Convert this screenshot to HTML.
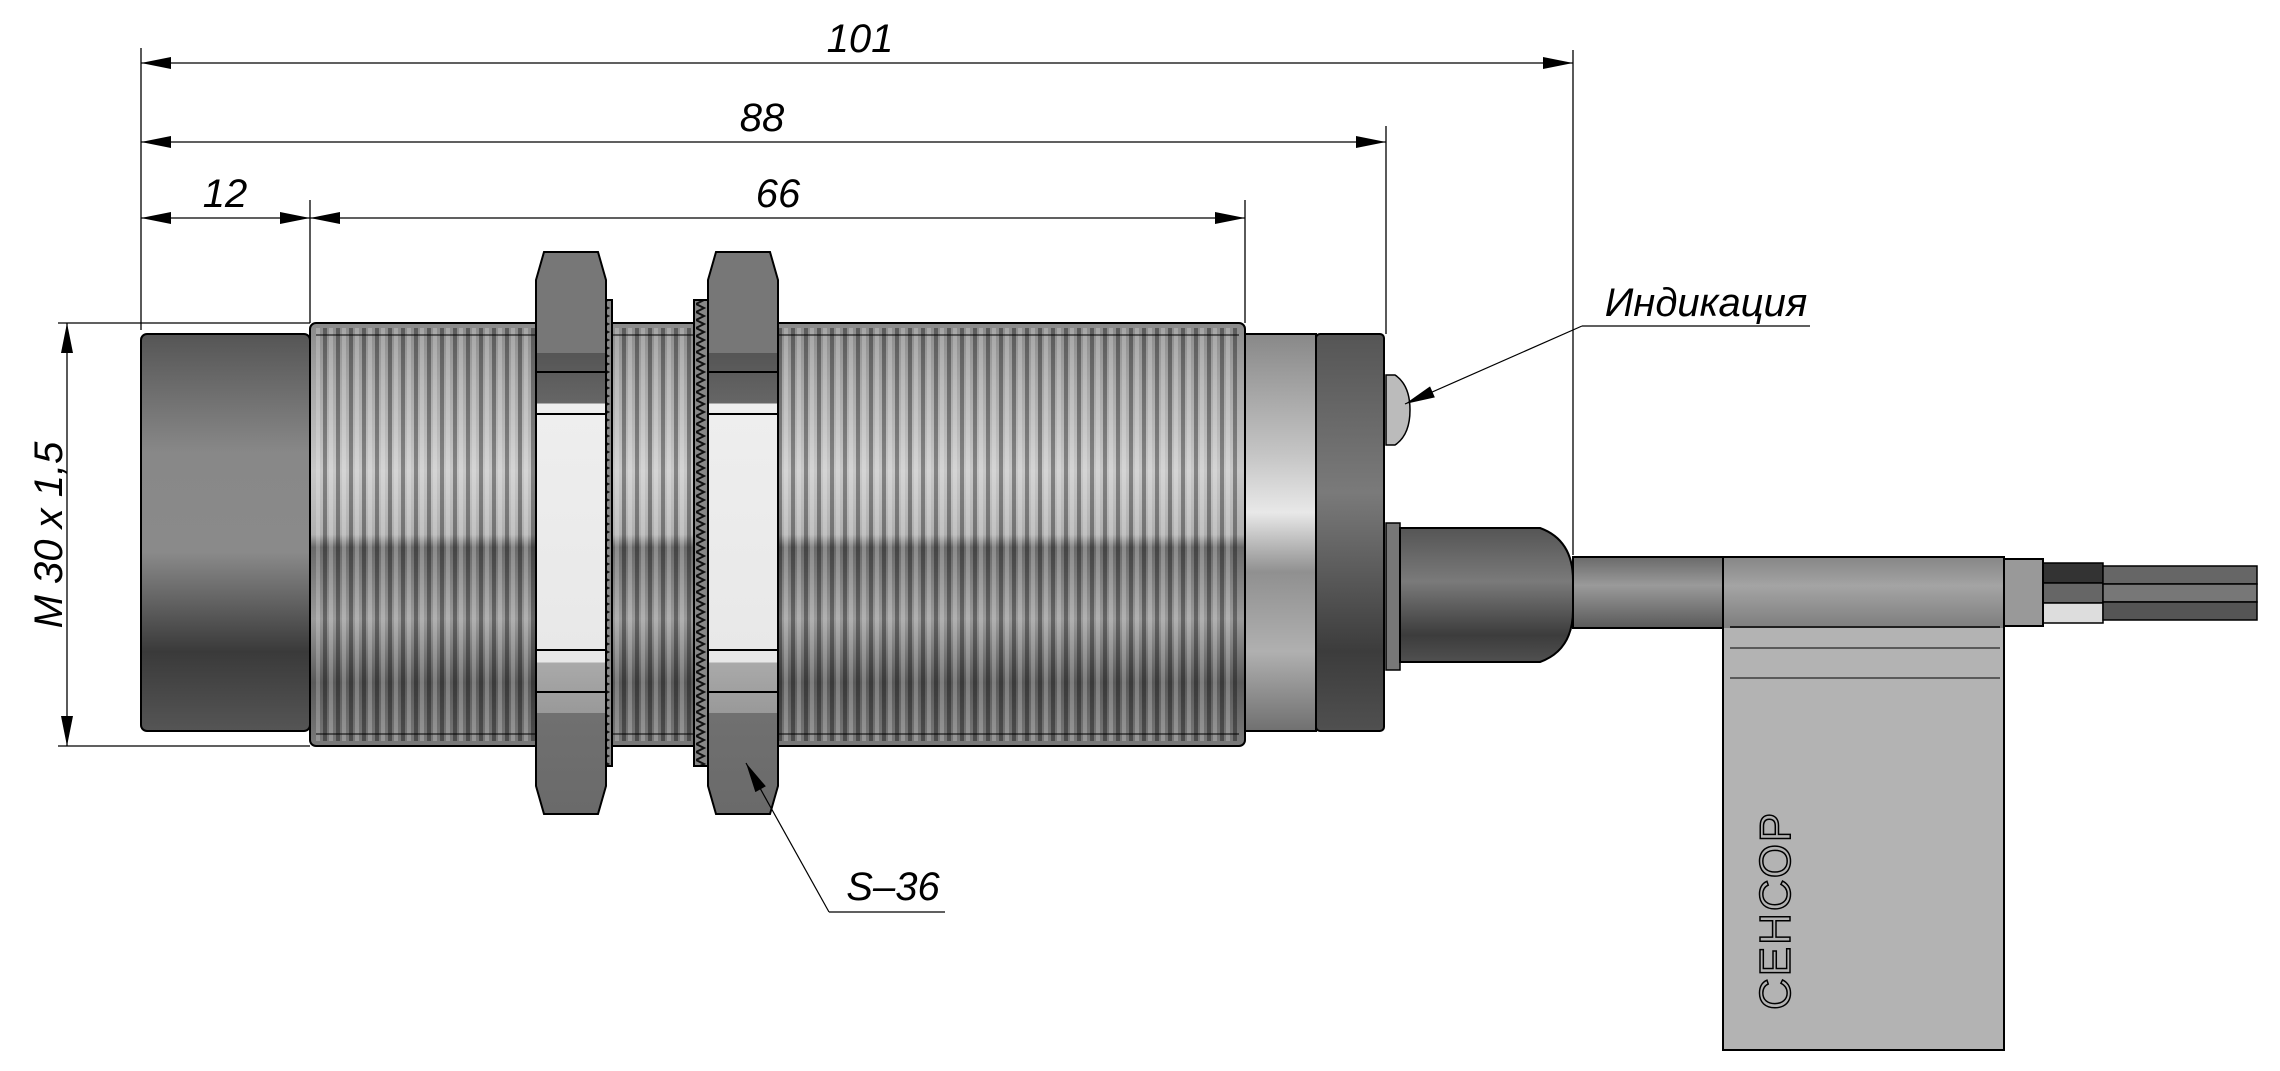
<!DOCTYPE html>
<html><head><meta charset="utf-8"><style>html,body{margin:0;padding:0;background:#fff}svg{display:block}</style></head>
<body>
<svg width="2280" height="1071" viewBox="0 0 2280 1071" xmlns="http://www.w3.org/2000/svg" font-family="Liberation Sans, sans-serif">
<defs>
<linearGradient id="metal" x1="0" y1="0" x2="0" y2="1">
<stop offset="0" stop-color="#8a8a8a"/><stop offset="0.15" stop-color="#a8a8a8"/><stop offset="0.35" stop-color="#c8c8c8"/><stop offset="0.5" stop-color="#b0b0b0"/><stop offset="0.53" stop-color="#6a6a6a"/><stop offset="0.7" stop-color="#9a9a9a"/><stop offset="0.85" stop-color="#5a5a5a"/><stop offset="1" stop-color="#7a7a7a"/></linearGradient>
<linearGradient id="cap" x1="0" y1="0" x2="0" y2="1">
<stop offset="0" stop-color="#555"/><stop offset="0.3" stop-color="#888"/><stop offset="0.55" stop-color="#8a8a8a"/><stop offset="0.8" stop-color="#3a3a3a"/><stop offset="1" stop-color="#555"/></linearGradient>
<linearGradient id="ring" x1="0" y1="0" x2="0" y2="1">
<stop offset="0" stop-color="#888"/><stop offset="0.3" stop-color="#c4c4c4"/><stop offset="0.45" stop-color="#e8e8e8"/><stop offset="0.6" stop-color="#909090"/><stop offset="0.8" stop-color="#b0b0b0"/><stop offset="1" stop-color="#707070"/></linearGradient>
<linearGradient id="dark" x1="0" y1="0" x2="0" y2="1">
<stop offset="0" stop-color="#555"/><stop offset="0.4" stop-color="#7a7a7a"/><stop offset="0.8" stop-color="#3c3c3c"/><stop offset="1" stop-color="#505050"/></linearGradient>
<linearGradient id="cable" x1="0" y1="0" x2="0" y2="1">
<stop offset="0" stop-color="#6a6a6a"/><stop offset="0.4" stop-color="#9a9a9a"/><stop offset="1" stop-color="#5a5a5a"/></linearGradient>
<linearGradient id="nut" x1="0" y1="0" x2="0" y2="1">
<stop offset="0" stop-color="#777"/><stop offset="0.18" stop-color="#777"/><stop offset="0.18" stop-color="#555"/><stop offset="0.27" stop-color="#666"/><stop offset="0.27" stop-color="#eee"/><stop offset="0.73" stop-color="#e8e8e8"/><stop offset="0.73" stop-color="#aaa"/><stop offset="0.82" stop-color="#999"/><stop offset="0.82" stop-color="#707070"/><stop offset="1" stop-color="#6a6a6a"/></linearGradient>
<pattern id="thr" x="310" y="0" width="13" height="10" patternUnits="userSpaceOnUse"><rect width="4" height="10" fill="#000" opacity="0.35"/><rect x="6" width="4" height="10" fill="#fff" opacity="0.22"/></pattern>
<pattern id="serr" width="12" height="8" patternUnits="userSpaceOnUse"><rect width="12" height="8" fill="#888"/><path d="M0 0 L8 4 L0 8" fill="none" stroke="#111" stroke-width="2"/></pattern>
<marker id="ar" viewBox="0 0 20 8" refX="20" refY="4" markerWidth="38" markerHeight="12" markerUnits="userSpaceOnUse" orient="auto-start-reverse"><path d="M0 0L20 4L0 8Z" fill="#000"/></marker>
</defs>
<g stroke="#000" stroke-width="1.3" fill="none">
<line x1="141" y1="48" x2="141" y2="330"/>
<line x1="1573" y1="50" x2="1573" y2="555"/>
<line x1="1386" y1="126" x2="1386" y2="334"/>
<line x1="310" y1="200" x2="310" y2="323"/>
<line x1="1245" y1="200" x2="1245" y2="323"/>
<line x1="58" y1="323" x2="310" y2="323"/>
<line x1="58" y1="746" x2="310" y2="746"/>
<line x1="141" y1="63" x2="1573" y2="63" marker-start="url(#ar)" marker-end="url(#ar)"/>
<line x1="141" y1="142" x2="1386" y2="142" marker-start="url(#ar)" marker-end="url(#ar)"/>
<line x1="141" y1="218" x2="310" y2="218" marker-start="url(#ar)" marker-end="url(#ar)"/>
<line x1="310" y1="218" x2="1245" y2="218" marker-start="url(#ar)" marker-end="url(#ar)"/>
<line x1="67" y1="323" x2="67" y2="746" marker-start="url(#ar)" marker-end="url(#ar)"/>
</g>
<rect x="141" y="334" width="169" height="397" rx="6" fill="url(#cap)" stroke="#000" stroke-width="2"/>
<rect x="310" y="323" width="935" height="423" rx="6" fill="url(#metal)" stroke="#000" stroke-width="2"/>
<rect x="316" y="328" width="923" height="413" fill="url(#thr)"/>
<line x1="316" y1="335" x2="1239" y2="335" stroke="#000" stroke-width="1"/>
<line x1="316" y1="734" x2="1239" y2="734" stroke="#000" stroke-width="1"/>
<rect x="1245" y="334" width="71" height="397" fill="url(#ring)" stroke="#000" stroke-width="2"/>
<rect x="1316" y="334" width="68" height="397" rx="4" fill="url(#dark)" stroke="#000" stroke-width="2"/>
<path d="M1386 375 L1395 375 Q1410 385 1410 410 Q1410 435 1395 445 L1386 445Z" fill="#bbb" stroke="#000" stroke-width="1.5"/>
<rect x="1386" y="523" width="14" height="147" fill="#777" stroke="#000" stroke-width="1.5"/>
<path d="M1400 528 L1540 528 Q1573 540 1573 580 L1573 610 Q1573 650 1540 662 L1400 662Z" fill="url(#dark)" stroke="#000" stroke-width="2"/>
<rect x="1573" y="557" width="150" height="71" fill="url(#cable)" stroke="#000" stroke-width="2"/>
<rect x="2043" y="563" width="60" height="20" fill="#333" stroke="#000" stroke-width="1.5"/>
<rect x="2043" y="583" width="60" height="20" fill="#666" stroke="#000" stroke-width="1.5"/>
<rect x="2043" y="603" width="60" height="20" fill="#ddd" stroke="#000" stroke-width="1.5"/>
<rect x="2103" y="566" width="154" height="18" fill="#666" stroke="#000" stroke-width="1.5"/>
<rect x="2103" y="584" width="154" height="18" fill="#777" stroke="#000" stroke-width="1.5"/>
<rect x="2103" y="602" width="154" height="18" fill="#555" stroke="#000" stroke-width="1.5"/>
<rect x="2004" y="559" width="39" height="67" fill="#999" stroke="#000" stroke-width="2"/>
<rect x="1723" y="557" width="281" height="493" fill="#b3b3b3" stroke="#000" stroke-width="2"/>
<rect x="1724" y="558" width="279" height="70" fill="url(#cable)" opacity="0.6"/>
<line x1="1730" y1="627" x2="2000" y2="627" stroke="#000" stroke-width="1.5"/>
<line x1="1730" y1="648" x2="2000" y2="648" stroke="#000" stroke-width="1"/>
<line x1="1730" y1="678" x2="2000" y2="678" stroke="#000" stroke-width="1"/>
<text transform="translate(1790 1010) rotate(-90)" font-size="44" fill="none" stroke="#000" stroke-width="1.5" letter-spacing="2">СЕНСОР</text>
<g stroke="#000" stroke-width="2">
<rect x="598" y="300" width="14" height="466" fill="url(#serr)"/>
<rect x="694" y="300" width="14" height="466" fill="url(#serr)"/>
<path d="M544 252 L598 252 L606 280 L606 786 L598 814 L544 814 L536 786 L536 280Z" fill="url(#nut)"/>
<path d="M716 252 L770 252 L778 280 L778 786 L770 814 L716 814 L708 786 L708 280Z" fill="url(#nut)"/>
<line x1="536" y1="372" x2="606" y2="372"/><line x1="536" y1="414" x2="606" y2="414"/>
<line x1="536" y1="650" x2="606" y2="650"/><line x1="536" y1="692" x2="606" y2="692"/>
<line x1="708" y1="372" x2="778" y2="372"/><line x1="708" y1="414" x2="778" y2="414"/>
<line x1="708" y1="650" x2="778" y2="650"/><line x1="708" y1="692" x2="778" y2="692"/>
</g>
<g stroke="#000" stroke-width="1.2" fill="none">
<line x1="1810" y1="326" x2="1582" y2="326"/>
<line x1="1582" y1="326" x2="1405" y2="404" marker-end="url(#ar)"/>
<line x1="945" y1="912" x2="829" y2="912"/>
<line x1="829" y1="912" x2="746" y2="763" marker-end="url(#ar)"/>
</g>
<g font-style="italic" font-size="40" fill="#000" text-anchor="middle">
<text x="860" y="52">101</text>
<text x="762" y="131">88</text>
<text x="225" y="207">12</text>
<text x="778" y="207">66</text>
<text x="1706" y="316">Индикация</text>
<text x="893" y="900">S–36</text>
<text transform="translate(62 535) rotate(-90)">М 30 х 1,5</text>
</g>
</svg>
</body></html>
